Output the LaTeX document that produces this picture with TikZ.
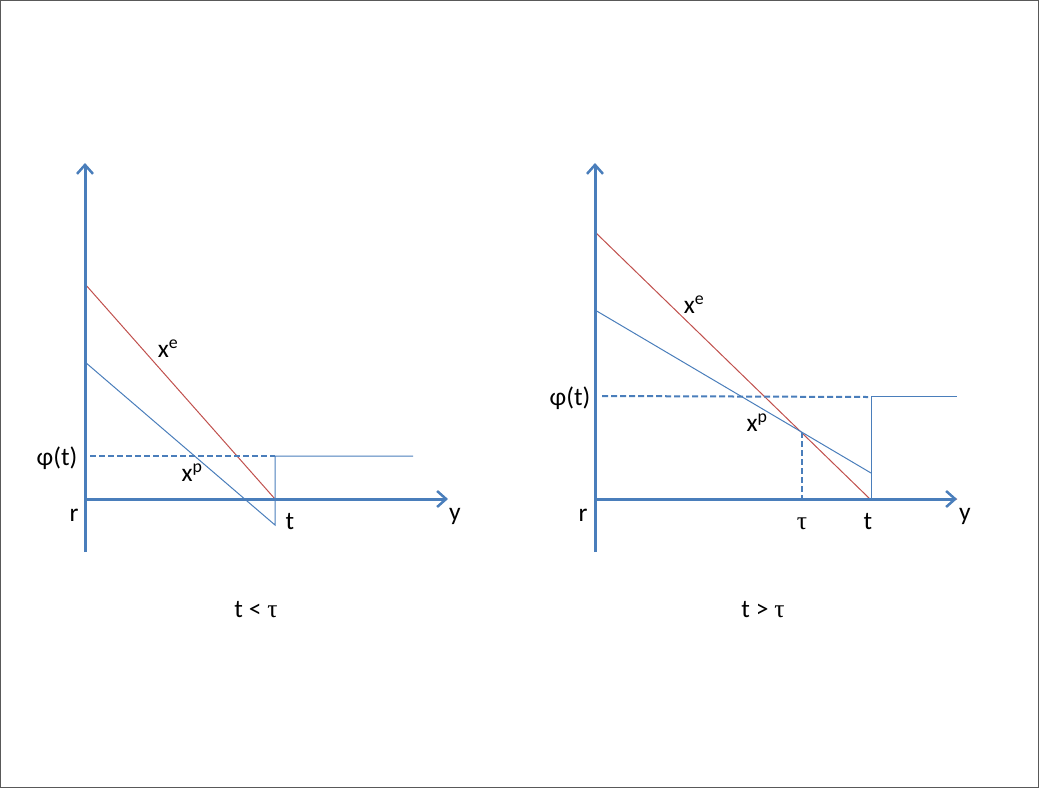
\documentclass[tikz,border=0pt]{standalone}
\usepackage{fontspec}
\setmainfont{Carlito}
\newfontfamily\symfont{Liberation Serif}
\usetikzlibrary{arrows.meta}
\definecolor{axisblue}{HTML}{4A7EBB}
\definecolor{linered}{HTML}{C0504D}
\begin{document}
\begin{tikzpicture}[x=1pt,y=-1pt,
  axisline/.style={draw=axisblue,line width=3pt,-{Straight Barb[length=9pt,width=16pt,line width=2.5pt]}},
  bluethin/.style={draw=axisblue,line width=1pt},
  redthin/.style={draw=linered,line width=1pt},
  dashline/.style={draw=axisblue,line width=2pt,dash pattern=on 6pt off 3pt},
  lbl/.style={font=\fontsize{25.5}{30}\selectfont,inner sep=0pt}]
\useasboundingbox (0,0) rectangle (1039,788);
\draw[gray!70!black,line width=0.8pt] (0.5,0.5) rectangle (1038.5,787.5);

% ---------- left panel ----------
\coordinate (Lbot) at (85,552);
\coordinate (Ltop) at (85,163);
\coordinate (Lxl) at (85,499);
\coordinate (Lxr) at (448,499);
\coordinate (LeA) at (85,284);
\coordinate (LeB) at (275,499);
\coordinate (LeC) at (413,499);
\coordinate (LpA) at (85,362);
\coordinate (LpB) at (275,525);
\coordinate (LpC) at (275,456);
\coordinate (LpD) at (413,456);
\coordinate (LdA) at (90,456);

\draw[redthin] (LeA) -- (LeB) -- (LeC);
\draw[bluethin] (LpA) -- (LpB) -- (LpC) -- (LpD);
\draw[dashline] (LdA) -- (LpC);
\draw[axisline] (Lbot) -- (Ltop);
\draw[axisline] (Lxl) -- (Lxr);

\node[lbl] (Lxe) at (168,349) {x\textsuperscript{e}};
\node[lbl] (Lxp) at (192,473) {x\textsuperscript{p}};
\node[lbl] (Lphi) at (57,458) {φ(t)};
\node[lbl] (Lr) at (74,515) {r};
\node[lbl] (Lt) at (290,522) {t};
\node[lbl] (Ly) at (455,516) {y};
\node[lbl] (Lcap) at (256,610) {t < {\symfont τ}};

% ---------- right panel ----------
\coordinate (Rbot) at (595,552);
\coordinate (Rtop) at (595,163);
\coordinate (Rxl) at (595,499);
\coordinate (Rxr) at (957,499);
\coordinate (ReA) at (595,232);
\coordinate (ReB) at (870,499);
\coordinate (ReC) at (957,499);
\coordinate (RpA) at (595,310);
\coordinate (RpB) at (871,473);
\coordinate (RvA) at (871,499);
\coordinate (RvB) at (871,396);
\coordinate (RvC) at (957,396);
\coordinate (RdA) at (602,396);
\coordinate (RdB) at (868,397);
\coordinate (Rtau) at (802,432);
\coordinate (RtauB) at (802,499);

\draw[redthin] (ReA) -- (ReB) -- (ReC);
\draw[bluethin] (RpA) -- (RpB);
\draw[bluethin] (RvA) -- (RvB) -- (RvC);
\draw[dashline] (RdA) -- (RdB);
\draw[dashline] (Rtau) -- (RtauB);
\draw[axisline] (Rbot) -- (Rtop);
\draw[axisline] (Rxl) -- (Rxr);

\node[lbl] (Rxe) at (694,305) {x\textsuperscript{e}};
\node[lbl] (Rxp) at (757,423) {x\textsuperscript{p}};
\node[lbl] (Rphi) at (570,398) {φ(t)};
\node[lbl] (Rr) at (583,515) {r};
\node[lbl] (Rtaul) at (802,524) {\symfont τ};
\node[lbl] (Rt) at (868,522) {t};
\node[lbl] (Ry) at (965,516) {y};
\node[lbl] (Rcap) at (763,610) {t > {\symfont τ}};
\end{tikzpicture}
\end{document}
